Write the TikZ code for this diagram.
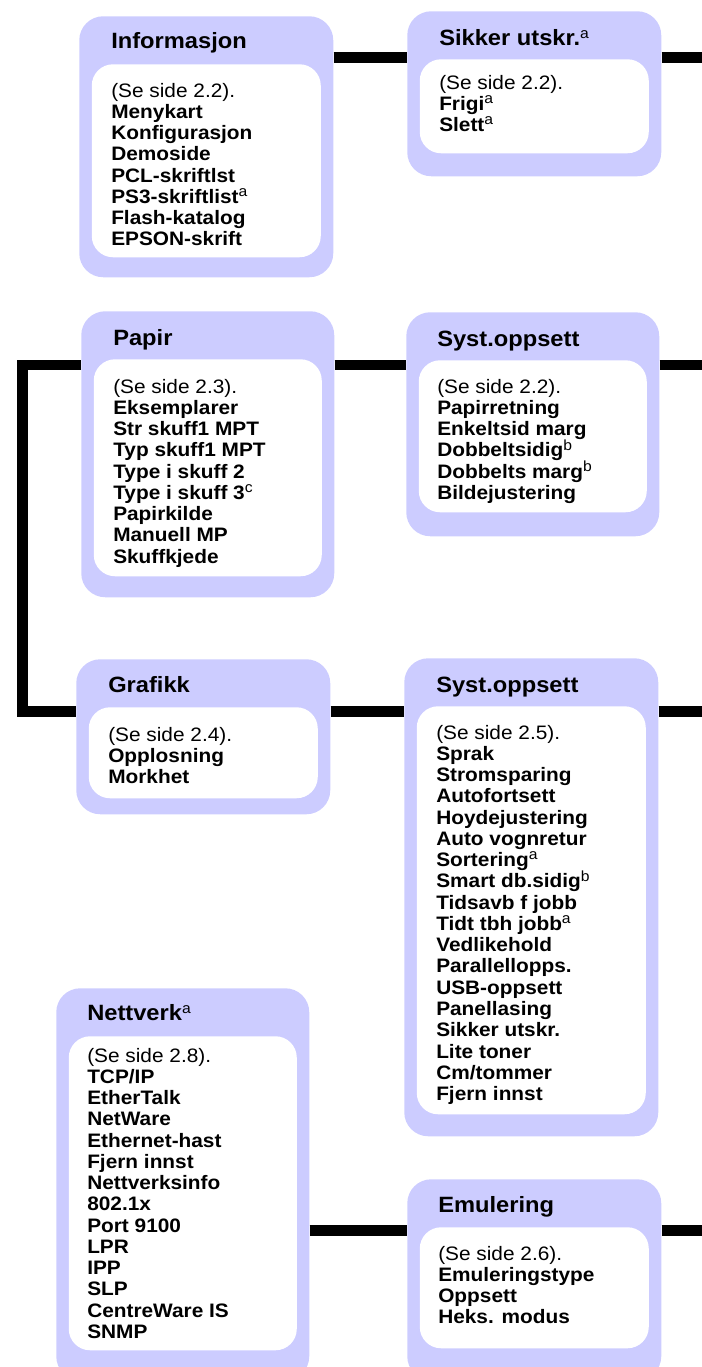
\documentclass[tikz,border=0pt]{standalone}
\usepackage{fontspec}
\setmainfont{Liberation Sans}[FakeStretch=1.07]
\definecolor{panel}{RGB}{204,204,255}
\newcommand\titlefont{\fontsize{16.6pt}{18pt}\selectfont\bfseries}
\newcommand\bodyfont{\fontsize{14.6pt}{15.95pt}\selectfont\bfseries}
% footnote mark after a menu entry
\newcommand\fnote[1]{\smash{\raisebox{5pt}{\fontsize{11pt}{11pt}\mdseries\selectfont #1}}}
% menu list: first baseline is the node's base
\newcommand\entries[1]{\begin{tabular}[t]{@{}l@{}}#1\end{tabular}}
\tikzset{
  outerbox/.style={rectangle, rounded corners=18pt, fill=panel, draw=none, inner sep=0pt, anchor=north west},
  innerbox/.style={rectangle, rounded corners=16pt, fill=white, draw=none, inner sep=0pt, anchor=north west},
  heading/.style={anchor=base west, inner sep=0pt, font=\titlefont},
  menu/.style={anchor=base west, inner sep=0pt, font=\bodyfont},
  conn/.style={line width=8.1pt, line join=miter, draw=black},
}
% \panel{name}{x1}{y1}{x2}{y2}{inner height}  (pixel units, y downwards)
\newcommand\panel[6]{%
  \node[outerbox, minimum width={(#4-#2)*0.75pt}, minimum height={(#5-#3)*0.75pt}] (#1) at (#2,#3) {};
  \node[innerbox, minimum width={(#4-#2-25)*0.75pt}, minimum height={(#6)*0.75pt}] (#1-in) at (#2+12.5,#3+48) {};
}
\begin{document}
\begin{tikzpicture}[x=0.75pt, y=-0.75pt]
\useasboundingbox (0,0) rectangle (702,1367);
\clip (0,0) rectangle (702,1367);

% panels: outer frame and white inner field
\panel{info}{79}{16}{333}{277}{193}
\panel{sik}{407}{11}{661}{176}{94}
\panel{pap}{81}{311}{334}{597}{217}
\panel{sysa}{406}{312}{659}{536}{152}
\panel{gra}{76}{659}{330}{814}{91}
\panel{sysb}{404}{658}{658}{1136}{408}
\panel{net}{56}{988}{309}{1380}{314}
\panel{emu}{407}{1179}{661}{1380}{121}

% headings
\node[heading] (info-t) at (111,48) {Informasjon};
\node[heading] (sik-t) at (439,45) {Sikker utskr.\fnote{a}};
\node[heading] (pap-t) at (113,345) {Papir};
\node[heading] (sysa-t) at (437,346) {Syst.oppsett};
\node[heading] (gra-t) at (108,692) {Grafikk};
\node[heading] (sysb-t) at (436,692) {Syst.oppsett};
\node[heading] (net-t) at (87,1020) {Nettverk\fnote{a}};
\node[heading] (emu-t) at (438,1212) {Emulering};

% menu entries
\node[menu] (info-l) at (111,97) {\entries{\mdseries(Se side 2.2).\\ Menykart\\ Konfigurasjon\\ Demoside\\ PCL-skriftlst\\ PS3-skriftlist\fnote{a}\\ Flash-katalog\\ EPSON-skrift}};
\node[menu] (sik-l) at (439,89) {\entries{\mdseries(Se side 2.2).\\ Frigi\fnote{a}\\ Slett\fnote{a}}};
\node[menu] (pap-l) at (113,393) {\entries{\mdseries(Se side 2.3).\\ Eksemplarer\\ Str skuff1 MPT\\ Typ skuff1 MPT\\ Type i skuff 2\\ Type i skuff 3\fnote{c}\\ Papirkilde\\ Manuell MP\\ Skuffkjede}};
\node[menu] (sysa-l) at (437,393) {\entries{\mdseries(Se side 2.2).\\ Papirretning\\ Enkeltsid marg\\ Dobbeltsidig\fnote{b}\\ Dobbelts marg\fnote{b}\\ Bildejustering}};
\node[menu] (gra-l) at (108,741) {\entries{\mdseries(Se side 2.4).\\ Opplosning\\ Morkhet}};
\node[menu] (sysb-l) at (436,739) {\entries{\mdseries(Se side 2.5).\\ Sprak\\ Stromsparing\\ Autofortsett\\ Hoydejustering\\ Auto vognretur\\ Sortering\fnote{a}\\ Smart db.sidig\fnote{b}\\ Tidsavb f jobb\\ Tidt tbh jobb\fnote{a}\\ Vedlikehold\\ Parallellopps.\\ USB-oppsett\\ Panellasing\\ Sikker utskr.\\ Lite toner\\ Cm/tommer\\ Fjern innst}};
\node[menu] (net-l) at (87,1062) {\entries{\mdseries(Se side 2.8).\\ TCP/IP\\ EtherTalk\\ NetWare\\ Ethernet-hast\\ Fjern innst\\ Nettverksinfo\\ 802.1x\\ Port 9100\\ LPR\\ IPP\\ SLP\\ CentreWare IS\\ SNMP}};
\node[menu] (emu-l) at (438,1260) {\entries{\mdseries(Se side 2.6).\\ Emuleringstype\\ Oppsett\\ Heks. modus}};

% connector rows and free ends
\coordinate (r1) at (0,57.5);
\coordinate (r2) at (0,365);
\coordinate (r3) at (0,711.5);
\coordinate (r4) at (0,1230.5);
\coordinate (e1) at (708,57.5);
\coordinate (e2) at (708,365);
\coordinate (e3) at (708,711.5);
\coordinate (e4) at (708,1230.5);
\coordinate (lt) at (22.5,365);
\coordinate (lb) at (22.5,711.5);

\draw[conn] (info.east |- r1) -- (sik.west |- r1);
\draw[conn] (sik.east |- r1) -- (e1);
\draw[conn] (pap.east |- r2) -- (sysa.west |- r2);
\draw[conn] (sysa.east |- r2) -- (e2);
\draw[conn] (pap.west |- r2) -- (lt) -- (lb) -- (gra.west |- r3);
\draw[conn] (gra.east |- r3) -- (sysb.west |- r3);
\draw[conn] (sysb.east |- r3) -- (e3);
\draw[conn] (net.east |- r4) -- (emu.west |- r4);
\draw[conn] (emu.east |- r4) -- (e4);
\end{tikzpicture}
\end{document}
